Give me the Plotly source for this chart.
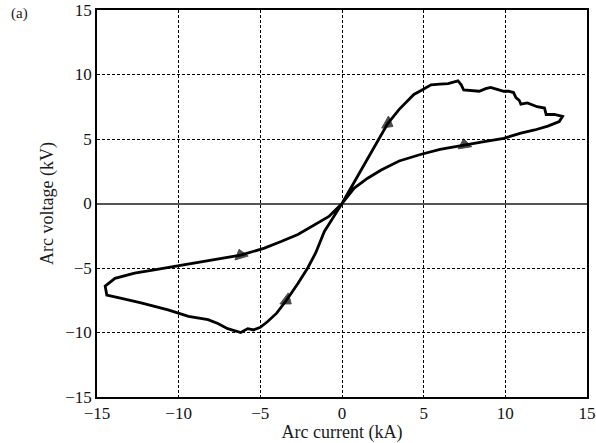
import plotly.graph_objects as go

# Hysteresis loop: arc current (kA) vs arc voltage (kV), traced in travel order
current_kA = [0, 0.55, 1.37, 2.0, 2.8, 3.5, 4.4, 4.9, 5.45, 6.0, 6.5, 7.1, 7.3, 7.45, 7.9, 8.4, 8.8, 9.1, 9.5, 9.9,
              10.2, 10.5, 10.65, 10.85, 10.95, 11.35, 11.95, 12.4, 12.5, 13.0, 13.5, 13.3, 12.6, 11.8, 10.95, 9.9,
              8.7, 7.5, 6.0, 4.8, 3.5, 2.4, 1.57, 0.75, 0, -0.8, -1.69, -2.7, -3.73, -4.75, -6.2, -8.2, -10.25,
              -11.5, -12.7, -13.9, -14.5, -14.4, -13.7, -12.3, -10.65, -9.4, -8.2, -7.6, -7.0, -6.2, -5.77, -5.4,
              -5.0, -4.55, -4.0, -3.4, -2.7, -2.1, -1.6, -1.08, -0.5, 0]
voltage_kV = [0, 1.2, 3.0, 4.4, 6.2, 7.3, 8.45, 8.8, 9.2, 9.25, 9.3, 9.5, 9.2, 8.8, 8.75, 8.7, 8.9, 9.0, 8.85, 8.7,
              8.7, 8.6, 8.2, 8.0, 7.7, 7.8, 7.5, 7.4, 6.9, 6.9, 6.75, 6.35, 6.0, 5.7, 5.45, 5.05,
              4.8, 4.55, 4.2, 3.8, 3.3, 2.6, 1.96, 1.2, 0, -1.0, -1.65, -2.4, -2.95, -3.46, -4.0, -4.45, -4.9,
              -5.15, -5.4, -5.8, -6.4, -7.1, -7.3, -7.7, -8.25, -8.75, -9.0, -9.3, -9.7, -10.0, -9.7, -9.8,
              -9.6, -9.15, -8.5, -7.5, -6.2, -5.0, -3.8, -2.17, -1.0, 0]
arrow_indices = [4, 37, 50, 71]

tick_vals = [-15, -10, -5, 0, 5, 10, 15]

font_family = "Liberation Serif, Times New Roman, serif"
sizes = [12 if i in arrow_indices else 0 for i in range(len(current_kA))]

fig = go.Figure()
fig.add_trace(go.Scatter(
    x=current_kA, y=voltage_kV, mode="lines+markers",
    line=dict(color="black", width=2.8),
    marker=dict(symbol="triangle-right", size=sizes, color="black", angleref="previous",
                line=dict(width=1, color="black")),
    showlegend=False, hoverinfo="skip",
))

axis_common = dict(
    range=[-15, 15], tickvals=tick_vals, ticks="", showline=True, linecolor="black", linewidth=1.5,
    mirror=True, showgrid=True, gridcolor="black", griddash="3px,2px", gridwidth=1, automargin=False,
    tickfont=dict(family=font_family, size=17, color="#111"),
    title_font=dict(family=font_family, size=18, color="#1a1a1a"),
)

fig.update_xaxes(**axis_common, zeroline=False, title_text="Arc current (kA)", title_standoff=3)
fig.update_yaxes(**axis_common, zeroline=True, zerolinecolor="#555", zerolinewidth=1.5,
                 title_text="Arc voltage (kV)", title_standoff=7)

fig.add_annotation(text="(a)", xref="paper", yref="paper", x=-0.18, y=0.99, xanchor="left", yanchor="middle",
                   showarrow=False, font=dict(family=font_family, size=15, color="#222"))

fig.update_layout(
    width=596, height=443, margin=dict(l=97, r=9, t=10, b=46, autoexpand=False),
    paper_bgcolor="white", plot_bgcolor="white",
    font=dict(family=font_family, color="#111"),
)

fig.write_html("out.html")
